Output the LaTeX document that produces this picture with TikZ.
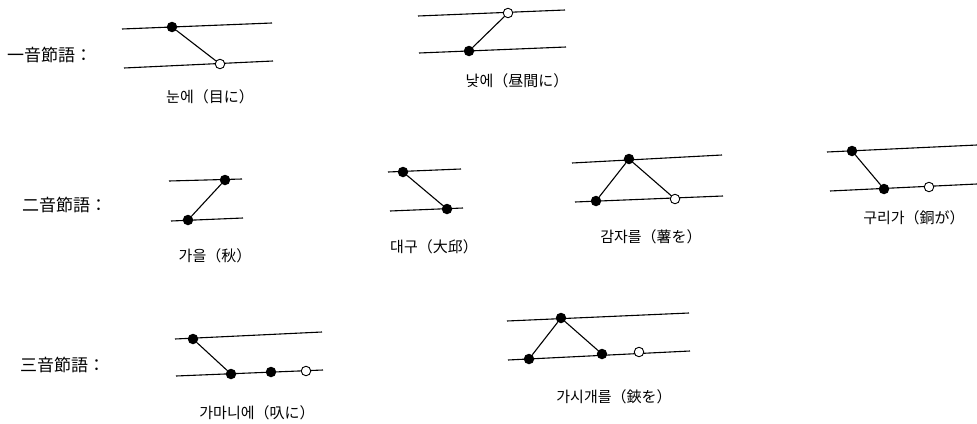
\documentclass[tikz,border=0pt]{standalone}
\usepackage{fontspec}
\newfontfamily\kr{Noto Sans CJK KR}
\newfontfamily\jp{Noto Sans CJK JP}
\begin{document}
\begin{tikzpicture}[x=1pt,y=-1pt,
  staff/.style={line width=1.1pt},
  fdot/.style={circle,fill=black,inner sep=0pt,minimum size=10.5pt},
  odot/.style={circle,draw=black,fill=white,line width=0.9pt,inner sep=0pt,minimum size=9.5pt},
  link/.style={line width=1.1pt},
  word/.style={font=\kr\fontsize{15}{17}\selectfont,inner sep=0pt},
  rowlabel/.style={font=\jp\fontsize{17}{19}\selectfont,inner sep=0pt,anchor=west}]
\useasboundingbox (0,0) rectangle (977,423);
% row labels
\node[rowlabel] (r1) at (7,55) {一音節語：};
\node[rowlabel] (r2) at (22,205) {二音節語：};
\node[rowlabel] (r3) at (20,365) {三音節語：};
% ---- A: 눈에
\draw[staff] (122,29) -- (272,23);
\draw[staff] (124,68) -- (273,61);
\node[fdot] (a1) at (172,27) {};
\node[odot] (a2) at (220,64) {};
\draw[link] (a1) -- (a2);
\node[word] (la) at (210,97) {눈에（目に）};
% ---- B: 낮에
\draw[staff] (418,16) -- (565,10);
\draw[staff] (419,53) -- (566,47);
\node[odot] (b1) at (508,13) {};
\node[fdot] (b2) at (469,51) {};
\draw[link] (b1) -- (b2);
\node[word] (lb) at (517,81) {낮에（昼間に）};
% ---- C: 가을
\draw[staff] (169,181) -- (242,179);
\draw[staff] (171,221) -- (243,218);
\node[fdot] (c1) at (225,180) {};
\node[fdot] (c2) at (188,220) {};
\draw[link] (c1) -- (c2);
\node[word] (lc) at (215,256) {가을（秋）};
% ---- D: 대구
\draw[staff] (388,172) -- (461,169);
\draw[staff] (390,211) -- (463,208);
\node[fdot] (d1) at (403,172) {};
\node[fdot] (d2) at (447,209) {};
\draw[link] (d1) -- (d2);
\node[word] (ld) at (434,247) {대구（大邱）};
% ---- E: 감자를
\draw[staff] (572,163) -- (722,155);
\draw[staff] (575,202) -- (723,196);
\node[fdot] (e1) at (596,201) {};
\node[fdot] (e2) at (629,159) {};
\node[odot] (e3) at (675,199) {};
\draw[link] (e1) -- (e2);
\draw[link] (e2) -- (e3);
\node[word] (le) at (651,237) {감자를（薯を）};
% ---- F: 구리가
\draw[staff] (827,152) -- (977,145);
\draw[staff] (830,191) -- (977,184);
\node[fdot] (f1) at (852,151) {};
\node[fdot] (f2) at (884,189) {};
\node[odot] (f3) at (929,187) {};
\draw[link] (f1) -- (f2);
\node[word] (lf) at (914,218) {구리가（銅が）};
% ---- G: 가마니에
\draw[staff] (175,339) -- (322,332);
\draw[staff] (176,376) -- (323,370);
\node[fdot] (g1) at (193,339) {};
\node[fdot] (g2) at (231,374) {};
\node[fdot] (g3) at (271,372) {};
\node[odot] (g4) at (306,371) {};
\draw[link] (g1) -- (g2);
\node[word] (lg) at (257,413) {가마니에（叺に）};
% ---- H: 가시개를
\draw[staff] (507,321) -- (689,313);
\draw[staff] (508,360) -- (690,351);
\node[fdot] (h1) at (529,359) {};
\node[fdot] (h2) at (561,318) {};
\node[fdot] (h3) at (602,354) {};
\node[odot] (h4) at (639,352) {};
\draw[link] (h1) -- (h2);
\draw[link] (h2) -- (h3);
\node[word] (lh) at (614,397) {가시개를（鋏を）};
\end{tikzpicture}
\end{document}
